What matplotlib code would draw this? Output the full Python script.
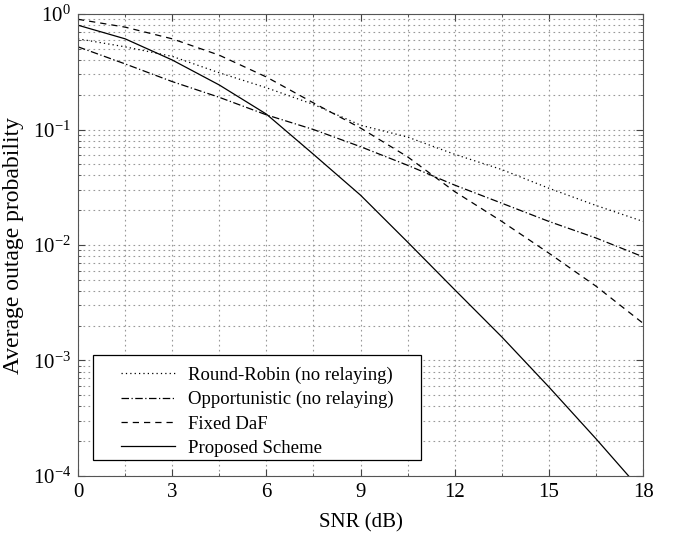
import numpy as np
import matplotlib
matplotlib.use('Agg')
import matplotlib.pyplot as plt
from matplotlib.patches import Rectangle
from matplotlib.ticker import MultipleLocator, LogLocator, NullFormatter

plt.rcParams['font.family'] = ['Liberation Serif', 'DejaVu Serif']
plt.rcParams['mathtext.fontset'] = 'custom'
plt.rcParams['mathtext.rm'] = 'Liberation Serif'
plt.rcParams['mathtext.it'] = 'Liberation Serif:italic'
plt.rcParams['mathtext.default'] = 'rm'

snr = [0, 1.5, 3, 4.5, 6, 7.5, 9, 10.5, 12, 13.5, 15, 16.5, 18]

round_robin = [0.61, 0.52, 0.43, 0.31, 0.23, 0.165, 0.109, 0.086, 0.061, 0.045, 0.031, 0.022, 0.016]
opportunistic = [0.52, 0.37, 0.26, 0.19, 0.134, 0.10, 0.071, 0.049, 0.033, 0.023, 0.016, 0.0115, 0.0079]
fixed_daf = [0.90, 0.77, 0.61, 0.44, 0.285, 0.17, 0.103, 0.058, 0.029, 0.016, 0.0085, 0.0044, 0.0021]
proposed = [0.80, 0.61, 0.40, 0.243, 0.136, 0.061, 0.027, 0.0106, 0.0041, 0.0016, 0.00059, 0.00021, 0.000072]

labels = ['Round-Robin (no relaying)', 'Opportunistic (no relaying)', 'Fixed DaF', 'Proposed Scheme']

fig = plt.figure(figsize=(6.8, 5.35), dpi=100)
ax = fig.add_axes([0.1147, 0.1103, 0.831, 0.8635])

lw = 0.9
ax.semilogy(snr, round_robin, color='black', lw=lw, linestyle=(0, (1, 2.5)), label=labels[0])
ax.semilogy(snr, opportunistic, color='black', lw=lw, linestyle=(0, (6, 2, 1, 2)), label=labels[1])
ax.semilogy(snr, fixed_daf, color='black', lw=lw, linestyle=(0, (5, 4)), label=labels[2])
ax.semilogy(snr, proposed, color='black', lw=lw, linestyle='-', label=labels[3])

ax.set_xlim(0, 18)
ax.set_ylim(1e-4, 1)
ax.xaxis.set_major_locator(MultipleLocator(3))
ax.xaxis.set_minor_locator(MultipleLocator(1.5))
ax.yaxis.set_major_locator(LogLocator(base=10, numticks=10))
ax.yaxis.set_minor_locator(LogLocator(base=10, subs=np.arange(2, 10), numticks=20))
ax.yaxis.set_minor_formatter(NullFormatter())

ax.grid(True, which='both', color='#999999', linestyle=(0, (1.5, 3)), linewidth=0.8)
ax.tick_params(which='both', direction='in', top=True, right=True, color='#444444')
ax.tick_params(which='major', length=5, labelsize=15, pad=5)
ax.tick_params(which='minor', length=2.5)
for s in ax.spines.values():
    s.set_color('#555555')

ax.set_xlabel('SNR (dB)', fontsize=15, labelpad=8)
ax.set_ylabel('Average outage probability', fontsize=17, labelpad=6)

# legend frame box, drawn separately so its padding matches the original
box = Rectangle((0.0265, 0.0346), 0.5805, 0.2273, transform=ax.transAxes,
                facecolor='white', edgecolor='black', lw=0.9, zorder=4)
ax.add_patch(box)
leg = ax.legend(loc='upper left', bbox_to_anchor=(0.0761, 0.237), fontsize=13.5,
                frameon=False, handlelength=2.9, labelspacing=0.38, borderpad=0,
                borderaxespad=0, handletextpad=0.7)
leg.set_zorder(5)

fig.savefig('out.png', dpi=100)
